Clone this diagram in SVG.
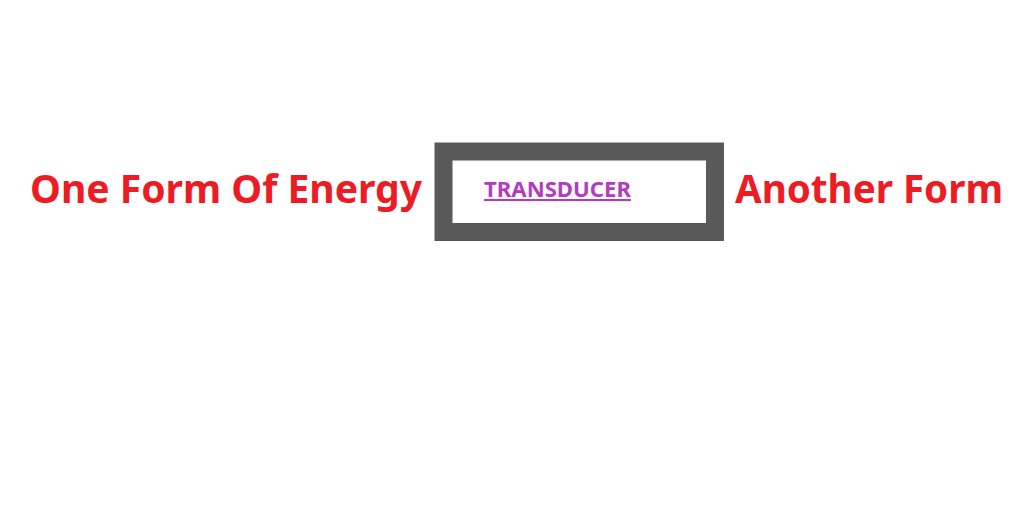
<svg xmlns="http://www.w3.org/2000/svg" width="1024" height="517" viewBox="0 0 1024 517">
<style>
.lbl{font-family:"Noto Sans","Open Sans","Liberation Sans",sans-serif;font-weight:bold;fill:#ED1C24;font-size:40px}
.inner{font-family:"Noto Sans","Open Sans","Liberation Sans",sans-serif;font-weight:bold;fill:#B23CC0;font-size:21px;text-decoration:underline}
</style>
<rect width="1024" height="517" fill="#fff"/>
<g id="source"><text class="lbl" x="30" y="203" textLength="392" lengthAdjust="spacingAndGlyphs">One Form Of Energy</text></g>
<g id="transducer">
<rect x="443.5" y="151.5" width="271.5" height="80.5" fill="#fff" stroke="#595959" stroke-width="18"/>
<text class="inner" x="484" y="197" textLength="147" lengthAdjust="spacingAndGlyphs">TRANSDUCER</text>
</g>
<g id="target"><text class="lbl" x="735" y="203" textLength="268" lengthAdjust="spacingAndGlyphs">Another Form</text></g>
<g id="connectors"></g>
</svg>
